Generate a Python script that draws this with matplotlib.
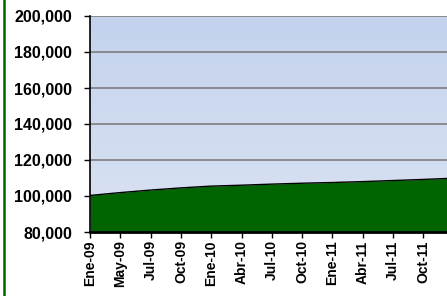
import numpy as np
import matplotlib
matplotlib.use("Agg")
import matplotlib.pyplot as plt
from matplotlib.ticker import FuncFormatter

# tick categories along the x axis (every third month)
labels = ["Ene-09", "May-09", "Jul-09", "Oct-09", "Ene-10", "Abr-10", "Jul-10",
          "Oct-10", "Ene-11", "Abr-11", "Jul-11", "Oct-11", "Ene-12"]
values = [100300, 101900, 103300, 104500, 105500, 106000, 106600,
          107100, 107500, 108000, 108600, 109200, 109900]

yticks = [80000, 100000, 120000, 140000, 160000, 180000, 200000]

plt.rcParams['font.family'] = ['Liberation Sans', 'DejaVu Sans']

fig = plt.figure(figsize=(4.47, 2.96), dpi=100)
fig.patch.set_facecolor("white")

# axes runs past the right edge, as in the cropped original
xmax = 12.3
ax = fig.add_axes([90 / 447, 64 / 296, 30.3 * xmax / 447, 216 / 296])
x = np.arange(len(values))

# vertical gradient background
grad = np.linspace(0, 1, 256).reshape(-1, 1)
cmap = matplotlib.colors.LinearSegmentedColormap.from_list(
    "bg", ["#dbe3f3", "#c3d2ed"])
ax.imshow(grad, aspect="auto", cmap=cmap, origin="lower",
          extent=(0, xmax, 80000, 200000), zorder=0)

for yt in yticks[1:]:
    ax.axhline(yt, color="#858585", lw=1.3, zorder=1)

ax.fill_between(x, 80000, values, color="#006400", zorder=2, lw=0)
ax.plot(x, values, color="black", lw=1.0, zorder=3)

ax.set_xlim(0, xmax)
ax.set_ylim(80000, 200000)
ax.set_yticks(yticks)
ax.yaxis.set_major_formatter(FuncFormatter(lambda v, p: f"{int(v):,}"))
ax.set_xticks(x)
ax.set_xticklabels(labels, rotation=90, fontsize=10, fontweight="bold")

ax.tick_params(axis="x", direction="out", length=4, width=1, color="black", pad=2)
ax.tick_params(axis="y", direction="out", length=4, width=1, color="black",
               pad=9, labelsize=11.5)
for t in ax.get_yticklabels():
    t.set_fontweight("bold")

for side in ("top", "right"):
    ax.spines[side].set_visible(False)
ax.spines["left"].set_linewidth(1.2)
ax.spines["bottom"].set_linewidth(2)
ax.spines["left"].set_zorder(4)
ax.spines["bottom"].set_zorder(4)

# green frame line at the left edge of the picture
fig.add_artist(plt.Line2D([3.5 / 447, 3.5 / 447], [0, 1], color="#006400", lw=1.8,
                          transform=fig.transFigure))

fig.savefig("out.png", dpi=100)
